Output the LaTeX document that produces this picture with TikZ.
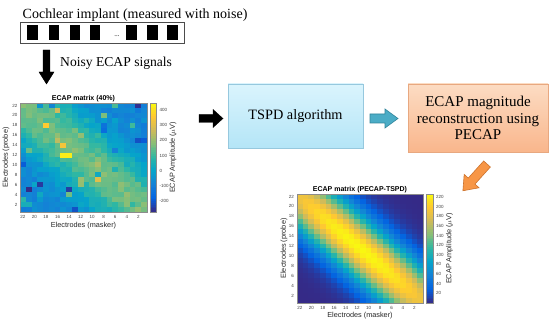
\documentclass[tikz,border=0pt]{standalone}
\usepackage{fontspec}
\setmainfont{Liberation Serif}
\newfontfamily\hsans{Liberation Sans}
\definecolor{par0}{RGB}{53,42,135}
\definecolor{par1}{RGB}{3,99,225}
\definecolor{par2}{RGB}{20,129,214}
\definecolor{par3}{RGB}{6,164,202}
\definecolor{par4}{RGB}{46,183,164}
\definecolor{par5}{RGB}{135,191,119}
\definecolor{par6}{RGB}{209,187,89}
\definecolor{par7}{RGB}{254,200,50}
\definecolor{par8}{RGB}{249,251,14}
\definecolor{tspdtop}{RGB}{218,244,253}
\definecolor{tspdbot}{RGB}{180,229,247}
\definecolor{tspdline}{RGB}{150,200,222}
\definecolor{orgtop}{RGB}{252,220,195}
\definecolor{orgbot}{RGB}{249,182,140}
\definecolor{orgline}{RGB}{232,168,128}
\definecolor{tealfill}{RGB}{75,172,198}
\definecolor{tealline}{RGB}{49,133,155}
\definecolor{orafill}{RGB}{247,150,70}
\definecolor{oraline}{RGB}{205,115,45}
\newcommand\setcellcolor[1]{%
  \pgfmathsetmacro\cta{max(0,min(1,#1))*8}%
  \pgfmathtruncatemacro\ctk{min(floor(\cta),7)}%
  \pgfmathtruncatemacro\ctn{\ctk+1}%
  \pgfmathsetmacro\ctp{(\cta-\ctk)*100}%
  \edef\ctexpr{par\ctn!\ctp!par\ctk}%
  \colorlet{cellc}{\ctexpr}}
\newcommand\blockarrow[4]{(0,-#3) -- ({#1-#2},-#3) -- ({#1-#2},-#4) -- (#1,0) -- ({#1-#2},#4) -- ({#1-#2},#3) -- (0,#3) -- cycle}
\tikzset{
  ticklab/.style={font=\hsans\fontsize{4.5}{5}\selectfont, text=black!75, inner sep=0},
  axlab/.style={font=\hsans\fontsize{7.3}{8}\selectfont, text=black!85, inner sep=0},
  hmtitle/.style={font=\hsans\bfseries\fontsize{7}{8}\selectfont, inner sep=0},
  flowbox/.style={draw, line width=0.8pt, align=center, inner sep=0},
  hmframe/.style={draw=black!45, line width=0.3pt, inner sep=0, anchor=north west}
}
\begin{document}
\begin{tikzpicture}[x=1pt,y=-1pt]
\useasboundingbox[fill=white] (0,0) rectangle (550,320);

% ---- cochlear implant ----
\node[anchor=base west, inner sep=0, font=\fontsize{14}{16}\selectfont] (ci) at (22.5,18.5) {Cochlear implant (measured with noise)};
\node[draw=black!70, line width=0.9pt, minimum width=164, minimum height=21, anchor=north west, inner sep=0] (arr) at (20,22) {};
\foreach \xx in {27.3,48.7,69.7,89.7,126.3,147.3,167.3}
  \fill[black] (\xx,25) rectangle ++(10.5,15);
\node[inner sep=0, font=\fontsize{7}{7}\selectfont] (dots) at (117,36) {...};

% down arrow
\filldraw[black, shift={(46.5,50)}, rotate=-90] \blockarrow{34}{12}{3.4}{7.5};
\node[anchor=base west, inner sep=0, font=\fontsize{13.6}{16}\selectfont] (noisy) at (60,67) {Noisy ECAP signals};

% ---- left heatmap ----
\pgfmathsetseed{11}
\foreach \i in {1,...,22}{
  \foreach \j in {1,...,22}{
    \pgfmathsetmacro\dd{\i-\j}
    \pgfmathsetmacro\vv{-90+250*exp(-(\dd*\dd)/72)+40*(rnd+rnd-1)+(rnd<0.12 ? 420*(rnd-0.45) : 0)}
    \setcellcolor{(\vv+270)/715}
    \fill[cellc] ({20+(\i-1)*5.7727},{103+(\j-1)*4.9545}) rectangle ++(5.83,5.0);
  }
}
\setcellcolor{(420+270)/715}
\fill[cellc] ({20+7*5.7727},{103+10*4.9545}) rectangle ++(11.6,5.0);
\setcellcolor{(-240+270)/715}
\fill[cellc] ({20+8*5.7727},{103+17*4.9545}) rectangle ++(5.83,5.0);
\node[hmframe, minimum width=127, minimum height=109] (hmA) at (20,103) {};
\node[hmtitle] (tA) at (83.5,99) {ECAP matrix (40\%)};
\foreach \k [count=\c] in {22,20,...,2}{
  \node[ticklab] at ({20+(2*\c-1.5)*5.7727},217) {\k};
  \node[ticklab, anchor=east] at (17.5,{103+(2*\c-1.5)*4.9545}) {\k};
}
\node[axlab] (xA) at (83.5,225.5) {Electrodes (masker)};
\node[axlab, rotate=90] (yA) at (6,157.5) {Electrodes (probe)};
% colorbar A
\foreach \s in {0,...,59}{
  \setcellcolor{(\s+0.5)/60}
  \fill[cellc] (149.5,{212-(\s+1)*109/60}) rectangle ++(6,{109/60+0.05});
}
\node[hmframe, minimum width=6, minimum height=109] (cbA) at (149.5,103) {};
\foreach \v in {400,300,...,-200}{
  \node[ticklab, anchor=west] at (159.5,{212-(\v+270)/715*109}) {\v};
}
\node[axlab, rotate=90] (cA) at (173,157.5) {ECAP Amplitude ($\mu$V)};

% ---- flow ----
\filldraw[black, shift={(199,118.5)}] \blockarrow{24}{10}{4}{9};
\node[flowbox, draw=tspdline, top color=tspdtop, bottom color=tspdbot, minimum width=135, minimum height=64, font=\fontsize{14.3}{16}\selectfont] (tspd) at (295.5,116) {TSPD algorithm};
\filldraw[fill=tealfill, draw=tealline, line width=0.6pt, shift={(370,118.5)}] \blockarrow{28}{13}{4.5}{9.5};
\node[flowbox, draw=orgline, top color=orgtop, bottom color=orgbot, minimum width=140, minimum height=68, font=\fontsize{15}{16.2}\selectfont] (pecap) at (478,118) {ECAP magnitude\\reconstruction using\\PECAP};
\filldraw[fill=orafill, draw=oraline, line width=0.6pt, shift={(487,164)}, rotate=228] \blockarrow{36}{13}{4.5}{10};

% ---- right heatmap ----
\foreach \i in {1,...,22}{
  \foreach \j in {1,...,22}{
    \pgfmathsetmacro\dd{\i-\j}
    \pgfmathsetmacro\mm{((\i+\j)/2-11.5)/10.5}
    \pgfmathsetmacro\vv{224*(1-0.16*\mm*\mm)*exp(-(\dd*\dd)/50)}
    \setcellcolor{\vv/226}
    \fill[cellc] ({297+(\i-1)*5.7273},{194+(\j-1)*4.9545}) rectangle ++(5.79,5.0);
  }
}
\node[hmframe, minimum width=126, minimum height=109] (hmB) at (297,194) {};
\node[hmtitle] (tB) at (360,190) {ECAP matrix (PECAP-TSPD)};
\foreach \k [count=\c] in {22,20,...,2}{
  \node[ticklab] at ({297+(2*\c-1.5)*5.7273},307.5) {\k};
  \node[ticklab, anchor=east] at (294,{194+(2*\c-1.5)*4.9545}) {\k};
}
\node[axlab] (xB) at (360,316) {Electrodes (masker)};
\node[axlab, rotate=90] (yB) at (284,248.5) {Electrodes (probe)};
\foreach \s in {0,...,59}{
  \setcellcolor{(\s+0.5)/60}
  \fill[cellc] (426,{303-(\s+1)*109/60}) rectangle ++(6.5,{109/60+0.05});
}
\node[hmframe, minimum width=6.5, minimum height=109] (cbB) at (426,194) {};
\foreach \v in {220,200,...,20}{
  \node[ticklab, anchor=west] at (436,{303-\v/226*109}) {\v};
}
\node[axlab, rotate=90] (cB) at (449.5,248.5) {ECAP Amplitude ($\mu$V)};
\end{tikzpicture}
\end{document}
